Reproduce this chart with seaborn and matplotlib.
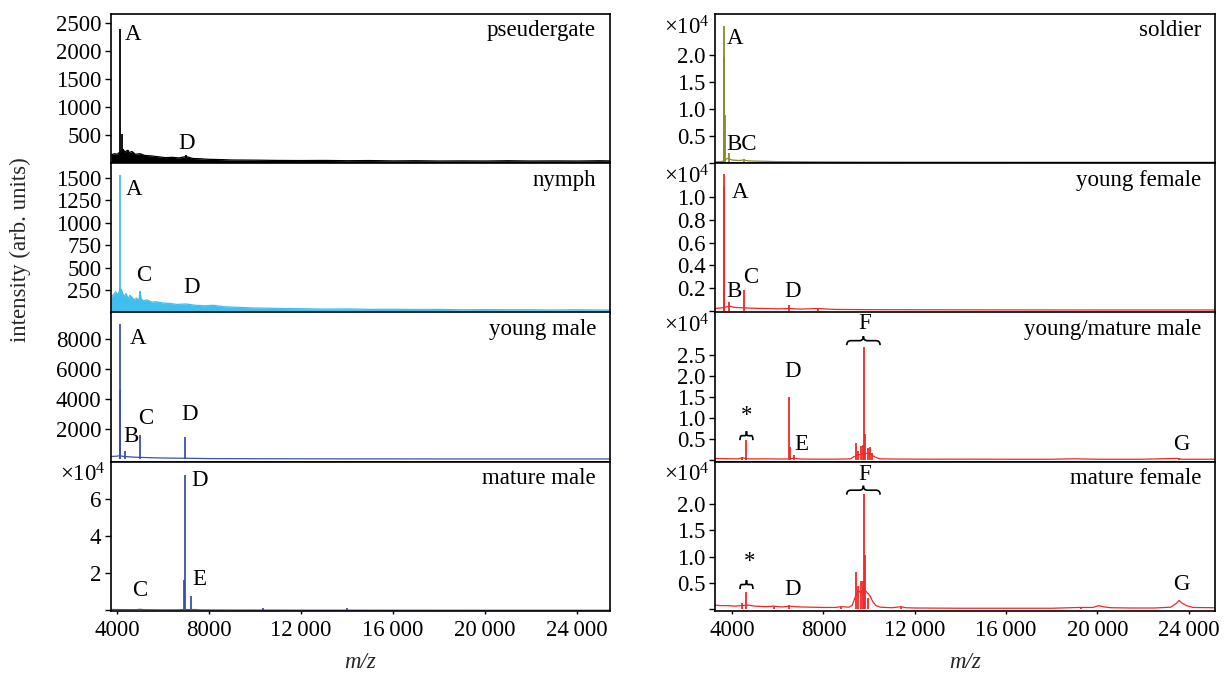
import numpy as np
import matplotlib
matplotlib.use("Agg")
import matplotlib.pyplot as plt
from matplotlib.path import Path
from matplotlib.patches import PathPatch
import seaborn as sns

# ---------------- data ----------------
x_ticks = [4000, 8000, 12000, 16000, 20000, 24000]
x_tick_labels = ["4000", "8000", "12\u2009000", "16\u2009000", "20\u2009000", "24\u2009000"]

# left column: pseudergate
pseud_base_mz = [3740, 3900, 4000, 4100, 4180, 4250, 4350, 4450, 4550, 4650, 4800, 5000, 5200, 5500, 5800,
                 6100, 6400, 6700, 7000, 7300, 7600, 8000, 8500, 9000, 10000, 11000, 12000, 13000, 14000,
                 15000, 16000, 17000, 18000, 19000, 20000, 21000, 22000, 23000, 24000, 25000, 25430]
pseud_base_int = [150, 170, 160, 190, 210, 250, 200, 230, 190, 210, 160, 170, 140, 130, 115,
                  100, 105, 95, 120, 85, 80, 70, 65, 58, 55, 50, 48, 50, 45,
                  48, 42, 45, 40, 42, 40, 45, 40, 42, 40, 45, 42]
pseud_pk_mz = [4130, 4200, 4280, 4470, 7000]
pseud_pk_int = [2390, 520, 250, 230, 140]

# nymph
nymph_base_mz = [3740, 3850, 3950, 4050, 4100, 4180, 4250, 4320, 4400, 4480, 4560, 4650, 4750, 4850, 4950,
                 5000, 5050, 5150, 5300, 5500, 5700, 6000, 6300, 6600, 7000, 7400, 7800, 8200, 8600, 9000,
                 9500, 10000, 11000, 12000, 13000, 14000, 15000, 16000, 17000, 18000, 19000, 20000, 21000,
                 22000, 23000, 24000, 25000, 25430]
nymph_base_int = [170, 200, 230, 190, 240, 260, 210, 180, 210, 150, 190, 170, 140, 160, 130,
                  230, 150, 130, 140, 115, 120, 105, 100, 90, 95, 80, 75, 80, 65, 60,
                  55, 50, 45, 42, 38, 40, 35, 36, 33, 34, 30, 32, 30,
                  30, 28, 30, 28, 27]
nymph_pk_mz = [4130, 4990]
nymph_pk_int = [1530, 235]

# young male
ym_base_mz = [3740, 4000, 4100, 4300, 4500, 4800, 5200, 5600, 6000, 6500, 7000, 7500, 8000, 9000, 10000,
              12000, 14000, 16000, 18000, 20000, 22000, 24000, 25430]
ym_base_int = [200, 220, 250, 200, 180, 150, 130, 110, 100, 90, 80, 70, 60, 55, 50,
               45, 40, 40, 35, 35, 35, 35, 35]
ym_pk_mz = [4120, 4135, 4340, 4995, 6960]
ym_pk_int = [4600, 9000, 540, 1600, 1500]

# mature male
mm_base_mz = [3740, 4200, 4800, 5000, 5200, 6000, 6600, 6800, 7400, 7600, 8000, 9000, 10000, 11000, 12000,
              14000, 16000, 20000, 25430]
mm_base_int = [500, 450, 400, 600, 400, 300, 300, 400, 500, 300, 250, 200, 200, 180, 150,
               150, 120, 100, 100]
mm_pk_mz = [5000, 5150, 6930, 6960, 7200, 10350, 14000]
mm_pk_int = [900, 700, 16600, 73000, 8000, 1200, 1500]

# right column: soldier
sol_base_mz = [3250, 3500, 3620, 3700, 3800, 4000, 4300, 4500, 4700, 5000, 5500, 6000, 7000, 8000, 10000,
               12000, 15000, 20000, 25150]
sol_base_int = [150, 200, 300, 600, 800, 500, 400, 500, 350, 300, 250, 200, 180, 150, 120,
                110, 100, 90, 90]
sol_pk_mz = [3640, 3660, 3685, 3850, 4520]
sol_pk_int = [19600, 25300, 8900, 1750, 700]

# young female
yf_base_mz = [3250, 3500, 3640, 3750, 3900, 4100, 4300, 4600, 5000, 5500, 6000, 6500, 7000, 7800, 8500,
              10000, 12000, 15000, 20000, 25150]
yf_base_int = [200, 250, 300, 350, 400, 300, 280, 250, 220, 200, 170, 200, 150, 200, 120,
               100, 90, 80, 70, 70]
yf_pk_mz = [3645, 3660, 3850, 4520, 6500, 7770]
yf_pk_int = [11000, 12000, 740, 1840, 530, 250]

# young/mature male
ymm_base_mz = [3250, 3600, 4000, 4300, 4450, 4550, 4700, 5000, 5500, 6000, 6400, 6700, 7000, 7500, 8000,
               8500, 9000, 9200, 9300, 9450, 9600, 9750, 9900, 10050, 10200, 10350, 10500, 11000, 12000,
               13000, 14000, 16000, 18000, 19000, 20000, 22000, 23500, 23700, 24000, 25150]
ymm_base_int = [300, 250, 200, 200, 500, 300, 200, 180, 200, 150, 150, 300, 150, 120, 120,
                120, 150, 200, 600, 1000, 1200, 1500, 1500, 1300, 800, 400, 200, 150, 120,
                110, 120, 100, 100, 200, 100, 100, 300, 100, 100, 100]
ymm_pk_mz = [4450, 4620, 6490, 6520, 6710, 9410, 9530, 9650, 9720, 9790, 9840, 9960, 10050, 10130, 23575]
ymm_pk_int = [700, 4700, 14950, 3000, 1000, 3900, 2000, 3300, 3500, 26700, 6100, 2700, 2900, 1500, 350]

# mature female
mf_base_mz = [3250, 3500, 3800, 4100, 4400, 4700, 5000, 5500, 5800, 6200, 6500, 7000, 7500, 8000, 8500,
              8800, 9100, 9250, 9350, 9450, 9550, 9650, 9750, 9850, 9950, 10050, 10150, 10300, 10500,
              11000, 11400, 11600, 12000, 14000, 16000, 18000, 19200, 19800, 20060, 20300, 20600, 21500,
              22500, 23200, 23450, 23575, 23700, 23900, 24200, 25150]
mf_base_int = [800, 700, 700, 600, 700, 800, 600, 500, 600, 450, 600, 450, 400, 350, 350,
               500, 400, 700, 1800, 3000, 3500, 3000, 3800, 3500, 3000, 2500, 1500, 700, 400,
               300, 500, 300, 250, 200, 200, 200, 350, 350, 700, 450, 300, 250,
               250, 400, 1100, 1700, 1200, 700, 350, 300]
mf_pk_mz = [4415, 4620, 5820, 6490, 8760, 9414, 9530, 9654, 9720, 9790, 9820, 9960, 11415, 19300]
mf_pk_int = [1150, 3300, 600, 800, 500, 7000, 4500, 5450, 5450, 21800, 10300, 2200, 500, 400]

# panel titles
titles = ["pseudergate", "nymph", "young male", "mature male",
          "soldier", "young female", "young/mature male", "mature female"]

# peak letter annotations (letter, m/z, intensity)
pseud_lbl = ["A", "D"]; pseud_lbl_x = [4700, 7010]; pseud_lbl_y = [2290, 350]
nymph_lbl = ["A", "C", "D"]; nymph_lbl_x = [4740, 5150, 7235]; nymph_lbl_y = [1370, 413, 274]
ym_lbl = ["A", "B", "C", "D"]; ym_lbl_x = [4895, 4600, 5240, 7135]; ym_lbl_y = [7995, 1545, 2730, 3000]
mm_lbl = ["D", "E", "C"]; mm_lbl_x = [7585, 7585, 4987]; mm_lbl_y = [70100, 16800, 10800]
sol_lbl = ["A", "BC"]; sol_lbl_x = [4140, 4397]; sol_lbl_y = [23000, 3300]
yf_lbl = ["A", "B", "C", "D"]; yf_lbl_x = [4346, 4089, 4825, 6657]; yf_lbl_y = [10400, 1700, 2960, 1720]
ymm_lbl = ["D", "E", "G", "F", "*"]; ymm_lbl_x = [6657, 7050, 23657, 9790, 4654]
ymm_lbl_y = [21000, 3700, 3700, 32300, 10500]
mf_lbl = ["D", "G", "F", "*"]; mf_lbl_x = [6657, 23657, 9790, 4774]; mf_lbl_y = [3850, 4700, 25600, 9000]

# bracket ranges (m/z start, m/z end, intensity level)
ymm_brackets = [(9020, 10480, 28300), (4346, 4911, 5700)]
mf_brackets = [(9020, 10480, 22600), (4346, 4911, 4700)]

# axis settings per panel
left_xlim = (3740, 25430)
right_xlim = (3250, 25150)

# ---------------- styling ----------------
sns.set_theme(style="ticks")
plt.rcParams['font.family'] = ['Liberation Serif', 'DejaVu Serif']
plt.rcParams['mathtext.fontset'] = 'custom'
plt.rcParams['mathtext.rm'] = 'Liberation Serif'
plt.rcParams['mathtext.it'] = 'Liberation Serif:italic'
plt.rcParams['mathtext.default'] = 'regular'
FS = 16.5

C_BLACK = "#000000"
C_CYAN = "#3ebfee"
C_BLUE = "#3d50aa"
C_OLIVE = "#8a8a2c"
C_RED = "#f02828"

panels = [
    dict(col=0, row=0, bmz=pseud_base_mz, bint=pseud_base_int, pmz=pseud_pk_mz, pint=pseud_pk_int,
         color=C_BLACK, fill=True, ylim=(0, 2655), yt=[500, 1000, 1500, 2000, 2500], ytl=None, scale=False,
         lbl=(pseud_lbl, pseud_lbl_x, pseud_lbl_y), br=[]),
    dict(col=0, row=1, bmz=nymph_base_mz, bint=nymph_base_int, pmz=nymph_pk_mz, pint=nymph_pk_int,
         color=C_CYAN, fill=True, ylim=(0, 1660), yt=[250, 500, 750, 1000, 1250, 1500], ytl=None, scale=False,
         lbl=(nymph_lbl, nymph_lbl_x, nymph_lbl_y), br=[]),
    dict(col=0, row=2, bmz=ym_base_mz, bint=ym_base_int, pmz=ym_pk_mz, pint=ym_pk_int,
         color=C_BLUE, fill=False, ylim=(-150, 9750), yt=[2000, 4000, 6000, 8000], ytl=None, scale=False,
         lbl=(ym_lbl, ym_lbl_x, ym_lbl_y), br=[]),
    dict(col=0, row=3, bmz=mm_base_mz, bint=mm_base_int, pmz=mm_pk_mz, pint=mm_pk_int,
         color=C_BLUE, fill=False, ylim=(-300, 80000), yt=[0, 20000, 40000, 60000], ytl=["", "2", "4", "6"],
         scale=True, lbl=(mm_lbl, mm_lbl_x, mm_lbl_y), br=[]),
    dict(col=1, row=0, bmz=sol_base_mz, bint=sol_base_int, pmz=sol_pk_mz, pint=sol_pk_int,
         color=C_OLIVE, fill=False, ylim=(-100, 27560), yt=[0, 5000, 10000, 15000, 20000],
         ytl=["", "0.5", "1.0", "1.5", "2.0"], scale=True, lbl=(sol_lbl, sol_lbl_x, sol_lbl_y), br=[]),
    dict(col=1, row=1, bmz=yf_base_mz, bint=yf_base_int, pmz=yf_pk_mz, pint=yf_pk_int,
         color=C_RED, fill=False, ylim=(-150, 12990), yt=[0, 2000, 4000, 6000, 8000, 10000],
         ytl=["", "0.2", "0.4", "0.6", "0.8", "1.0"], scale=True, lbl=(yf_lbl, yf_lbl_x, yf_lbl_y), br=[]),
    dict(col=1, row=2, bmz=ymm_base_mz, bint=ymm_base_int, pmz=ymm_pk_mz, pint=ymm_pk_int,
         color=C_RED, fill=False, ylim=(-500, 35000), yt=[0, 5000, 10000, 15000, 20000, 25000],
         ytl=["", "0.5", "1.0", "1.5", "2.0", "2.5"], scale=True, lbl=(ymm_lbl, ymm_lbl_x, ymm_lbl_y),
         br=ymm_brackets),
    dict(col=1, row=3, bmz=mf_base_mz, bint=mf_base_int, pmz=mf_pk_mz, pint=mf_pk_int,
         color=C_RED, fill=False, ylim=(-320, 28000), yt=[0, 5000, 10000, 15000, 20000],
         ytl=["", "0.5", "1.0", "1.5", "2.0"], scale=True, lbl=(mf_lbl, mf_lbl_x, mf_lbl_y),
         br=mf_brackets),
]

W, H = 1230, 675
fig = plt.figure(figsize=(W / 100, H / 100), dpi=100)

col_left_px = [111, 715]
col_width_px = [499, 500]
top_px, bottom_px = 14, 611
row_h = (bottom_px - top_px) / 4


def draw_brace(ax, x0, x1, y, h):
    xm = (x0 + x1) / 2
    q = 0.12 * (x1 - x0)
    verts = [(x0, y - h), (x0, y), (x0 + q, y), (xm - q, y), (xm, y), (xm, y + h),
             (xm, y), (xm + q, y), (x1 - q, y), (x1, y), (x1, y - h)]
    codes = [Path.MOVETO, Path.CURVE3, Path.CURVE3, Path.LINETO, Path.CURVE3, Path.CURVE3,
             Path.CURVE3, Path.CURVE3, Path.LINETO, Path.CURVE3, Path.CURVE3]
    ax.add_patch(PathPatch(Path(verts, codes), fill=False, lw=1.2, color="black", zorder=5))


for i, p in enumerate(panels):
    c, r = p["col"], p["row"]
    l = col_left_px[c] / W
    w = col_width_px[c] / W
    b = 1 - (top_px + (r + 1) * row_h) / H
    ax = fig.add_axes([l, b, w, row_h / H])
    xlim = left_xlim if c == 0 else right_xlim

    if p["fill"]:
        ax.fill_between(p["bmz"], 0, p["bint"], color=p["color"], lw=0)
    sns.lineplot(x=p["bmz"], y=p["bint"], ax=ax, color=p["color"], lw=0.9, estimator=None, sort=False)
    ax.vlines(p["pmz"], 0, p["pint"], color=p["color"], lw=1.3)

    ax.set_xlim(*xlim)
    ax.set_ylim(*p["ylim"])
    ax.set_xticks(x_ticks)
    if r == 3:
        ax.set_xticklabels(x_tick_labels, fontsize=FS)
        ax.set_xlabel("m/z", fontsize=FS, style="italic", labelpad=8)
    else:
        ax.set_xticklabels([])
    ax.set_yticks(p["yt"])
    if p["ytl"] is not None:
        ax.set_yticklabels(p["ytl"], fontsize=FS)
    else:
        ax.set_yticklabels([str(v) for v in p["yt"]], fontsize=FS)
    ax.set_ylabel("")
    ax.tick_params(axis="y", direction="out", length=4, width=1, pad=3, colors="black")
    ax.tick_params(axis="x", direction="out", length=2.5, width=1, pad=4, colors="black")
    for s in ax.spines.values():
        s.set_visible(True)
        s.set_linewidth(1.2)
        s.set_color("black")

    ax.text(0.972, 0.85, titles[i], transform=ax.transAxes, ha="right", va="baseline",
            fontsize=FS, color="black")
    if p["scale"]:
        ax.text(-0.01, 0.91, r"$\times10^{4}$", transform=ax.transAxes, ha="right", va="center",
                fontsize=FS, color="black")

    letters, lx, ly = p["lbl"]
    for t, xx, yy in zip(letters, lx, ly):
        ax.text(xx, yy, t, ha="center", va="center", fontsize=FS, color="black")

    yr = p["ylim"][1] - p["ylim"][0]
    for (x0, x1, yb) in p["br"]:
        draw_brace(ax, x0, x1, yb, 0.03 * yr)

fig.text(20 / W, 1 - 250 / H, "intensity (arb. units)", rotation=90, ha="center", va="center", fontsize=FS)

fig.savefig("out.png", dpi=100)
